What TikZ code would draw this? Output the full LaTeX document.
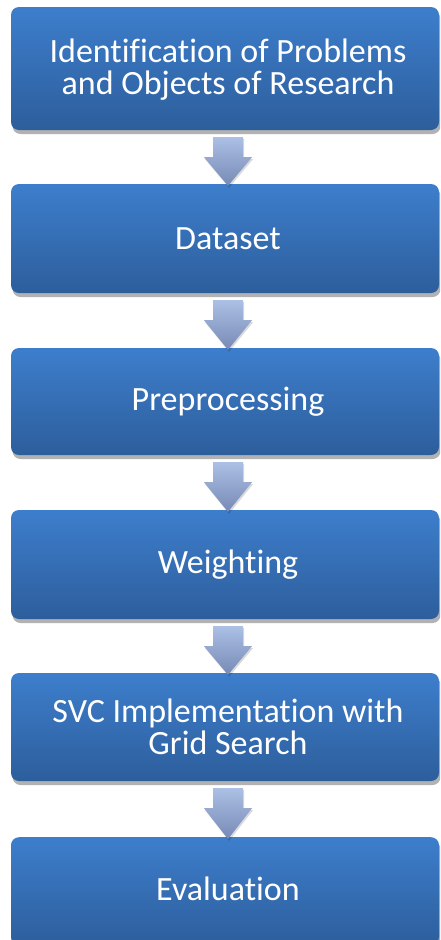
\documentclass[tikz,border=0pt]{standalone}
\usepackage{fontspec}
\setmainfont{Carlito}[Ligatures=NoCommon]
\usetikzlibrary{calc,shadows}
\definecolor{boxtop}{RGB}{61,126,204}
\definecolor{boxbot}{RGB}{45,94,156}
\definecolor{arrtop}{RGB}{172,191,228}
\definecolor{arrbot}{RGB}{118,138,182}
\tikzset{
  stepbox/.style={rectangle, rounded corners=8pt, minimum width=428pt,
    top color=boxtop, bottom color=boxbot, draw=none,
    drop shadow={shadow xshift=1.5pt, shadow yshift=-4pt, opacity=0.3, fill=black}},
  steptext/.style={text=white, font=\fontsize{34}{32}\selectfont, align=center},
  flowarrow/.style={top color=arrtop, bottom color=arrbot, draw=none,
    drop shadow={shadow xshift=1pt, shadow yshift=-2pt, opacity=0.15, fill=black}}
}
\newcommand{\flowarr}[2]{%
  \path[flowarrow] ($(#1.south)+(-12,7)$) -- ++(30,0) -- ++(0,20) -- ++(9,0)
    -- ($(#2.north)+(3,2)$) -- ($(#1.south)+(-21,27)$) -- ++(9,0) -- cycle;}
\begin{document}
\begin{tikzpicture}[x=1pt,y=-1pt]
\useasboundingbox (0,0) rectangle (440,940);
\clip (0,0) rectangle (440,940);
\fill[white] (0,0) rectangle (440,940);
\node[stepbox, minimum height=123pt] (b1) at (225,68.5) {};
\node[steptext] (t1) at (228,70) {Identification of Problems\\and Objects of Research};
\node[stepbox, minimum height=109pt] (b2) at (225,238.5) {};
\node[steptext] (t2) at (228,239) {Dataset};
\node[stepbox, minimum height=107pt] (b3) at (225,401.5) {};
\node[steptext] (t3) at (228,402) {Preprocessing};
\node[stepbox, minimum height=109pt] (b4) at (225,564.5) {};
\node[steptext] (t4) at (228,565) {Weighting};
\node[stepbox, minimum height=108pt] (b5) at (225,727) {};
\node[steptext] (t5) at (228,727) {SVC Implementation with\\Grid Search};
\node[stepbox, minimum height=108pt, anchor=north] (b6) at (225,837) {};
\node[steptext] (t6) at (228,889) {Evaluation};
\flowarr{b1}{b2}
\flowarr{b2}{b3}
\flowarr{b3}{b4}
\flowarr{b4}{b5}
\flowarr{b5}{b6}
\end{tikzpicture}
\end{document}
